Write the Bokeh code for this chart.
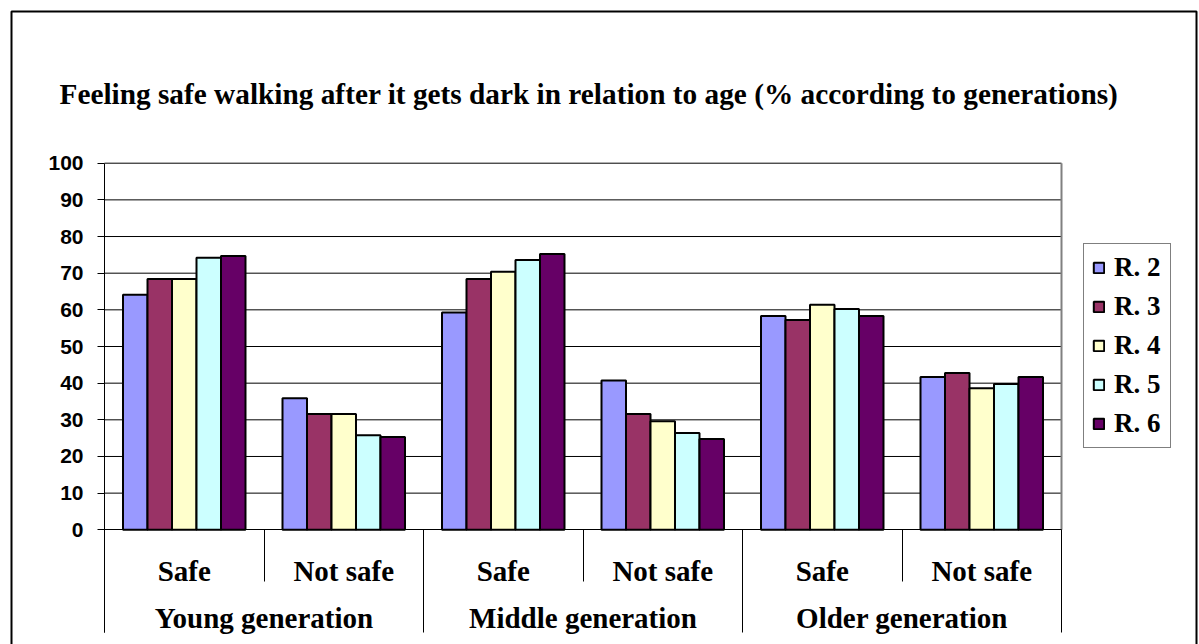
import numpy as np
from bokeh.plotting import figure
from bokeh.models import (Range1d, LinearAxis, FixedTicker, CustomJSTickFormatter,
                          Label, Legend, LegendItem)
from bokeh.embed import file_html
from bokeh.resources import INLINE

# ---------------- data ----------------
generations = ["Young generation", "Middle generation", "Older generation"]
answers = ["Safe", "Not safe"]
series = ["R. 2", "R. 3", "R. 4", "R. 5", "R. 6"]
# order: Young Safe, Young Not safe, Middle Safe, Middle Not safe, Older Safe, Older Not safe
r2 = [64.1, 35.9, 59.3, 40.7, 58.3, 41.7]
r3 = [68.4, 31.6, 68.4, 31.6, 57.2, 42.8]
r4 = [68.4, 31.6, 70.4, 29.6, 61.4, 38.6]
r5 = [74.2, 25.8, 73.6, 26.4, 60.2, 39.8]
r6 = [74.7, 25.3, 75.2, 24.8, 58.3, 41.7]
values = [r2, r3, r4, r5, r6]
colors = ["#9999FF", "#993366", "#FFFFCC", "#CCFFFF", "#660066"]
y_ticks = list(range(0, 101, 10))
title_text = "Feeling safe walking after it gets dark in relation to age (% according to generations)"

# ---------------- layout (canvas pixels) ----------------
W, H = 1199, 644
PL, PR = 104.0, 1061.0     # plot area left / right
PT, PB = 162.7, 529.3      # plot area top (100) / bottom (0)
n_cat = len(generations) * len(answers)
ux = (PR - PL) / n_cat
uy = (PB - PT) / 100.0

def X(px):
    return (px - PL) / ux

def Y(py):
    return (PB - py) / uy

p = figure(width=W, height=H, x_range=Range1d(X(0), X(W)), y_range=Range1d(Y(H), Y(0)),
           output_backend="svg", toolbar_location=None, x_axis_type=None, y_axis_type=None,
           title=None, min_border=0)
p.min_border_left = p.min_border_right = p.min_border_top = p.min_border_bottom = 0
p.outline_line_color = None
p.background_fill_color = "white"
p.border_fill_color = "white"

# outer frame (open at the bottom, as in the page)
p.line(x=[X(11), X(11), X(1196), X(1196)], y=[Y(H + 10), Y(11), Y(11), Y(H + 10)],
       line_color="black", line_width=2)

# gridlines and plot-area border
p.segment(x0=0, x1=n_cat, y0=y_ticks[1:], y1=y_ticks[1:], line_color="black", line_width=1)
p.segment(x0=[n_cat], x1=[n_cat], y0=[0], y1=[100], line_color="#808080", line_width=2)

# bars
cat_x = np.arange(n_cat) + 0.5
bw = 0.1536
renderers = []
for j, (vals, col) in enumerate(zip(values, colors)):
    r = p.vbar(x=cat_x + (j - (len(series) - 1) / 2) * bw, top=vals, bottom=0, width=bw,
               fill_color=col, line_color="black", line_width=2)
    renderers.append(r)

inner_px, outer_px = 52, 103

# y axis
yax = LinearAxis(fixed_location=0, bounds=(-outer_px / uy, 100),
                 ticker=FixedTicker(ticks=y_ticks))
yax.axis_line_color = "black"
yax.axis_line_width = 1
yax.major_tick_out = 7
yax.major_tick_in = 0
yax.major_tick_line_color = "black"
yax.minor_tick_line_color = None
yax.major_label_standoff = 14
yax.major_label_text_font = "Liberation Sans"
yax.major_label_text_font_style = "bold"
yax.major_label_text_font_size = "21px"
yax.major_label_text_color = "black"
p.add_layout(yax, "left")

# category separators (x axis line + tick lines)
outer = [float(2 * i) for i in range(len(generations) + 1)]
inner = [float(2 * i + 1) for i in range(len(generations))]
xsep = LinearAxis(fixed_location=0, bounds=(-1e-6, n_cat + 1e-6),
                  ticker=FixedTicker(ticks=outer, minor_ticks=inner),
                  formatter=CustomJSTickFormatter(code="return ''"))
xsep.axis_line_color = "black"
xsep.major_tick_out = outer_px
xsep.major_tick_in = 0
xsep.minor_tick_out = inner_px
xsep.minor_tick_in = 0
xsep.major_tick_line_color = "black"
xsep.minor_tick_line_color = "black"
p.add_layout(xsep, "below")

def label_axis(ticks, labels, standoff):
    ax = LinearAxis(fixed_location=0, bounds=(-1e-6, n_cat + 1e-6),
                    ticker=FixedTicker(ticks=list(ticks)),
                    formatter=CustomJSTickFormatter(args=dict(labels=list(labels)),
                                                    code="return labels[index]"))
    ax.axis_line_color = None
    ax.major_tick_line_color = None
    ax.minor_tick_line_color = None
    ax.major_tick_out = 0
    ax.major_tick_in = 0
    ax.major_label_standoff = standoff
    ax.major_label_text_font = "Liberation Serif"
    ax.major_label_text_font_style = "bold"
    ax.major_label_text_font_size = "29px"
    ax.major_label_text_color = "black"
    p.add_layout(ax, "below")

label_axis(cat_x, answers * len(generations), 25)
label_axis([2 * i + 1 for i in range(len(generations))], generations, 72)

# title
p.add_layout(Label(x=X(59), y=Y(93), text=title_text,
                   text_font="Liberation Serif", text_font_style="bold",
                   text_font_size="29.3px", text_baseline="middle", text_align="left",
                   text_color="black"))

# legend
legend = Legend(items=[LegendItem(label=s, renderers=[r]) for s, r in zip(series, renderers)],
                location=(1083, H - 448))
legend.label_text_font = "Liberation Serif"
legend.label_text_font_style = "bold"
legend.label_text_font_size = "27px"
legend.label_text_color = "black"
legend.glyph_width = 13
legend.glyph_height = 13
legend.padding = 8
legend.spacing = 8
legend.label_standoff = 9
legend.label_height = 30
legend.label_width = 48
legend.border_line_color = "black"
legend.border_line_width = 1
legend.background_fill_color = "white"
legend.background_fill_alpha = 1
p.add_layout(legend)

open("out.html", "w").write(file_html(p, INLINE))
